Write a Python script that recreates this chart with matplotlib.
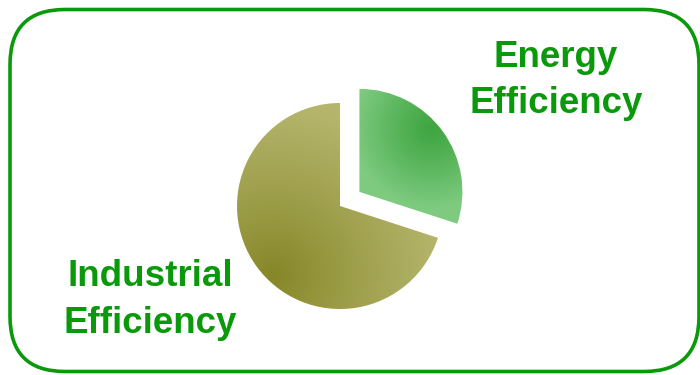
import numpy as np
import matplotlib.pyplot as plt
from matplotlib.colors import to_rgb
from matplotlib.patches import FancyBboxPatch

# data
labels = ['Energy\nEfficiency', 'Industrial\nEfficiency']
shares = [30, 70]
explode = [24, 0]

green = '#0a990a'

fig = plt.figure(figsize=(7, 3.75), dpi=100)
ax = fig.add_axes([0, 0, 1, 1])

# rounded frame
frame = FancyBboxPatch((10, 3.5), 689, 362, boxstyle='round,pad=0,rounding_size=55',
                       fc='none', ec=green, lw=2.6)
ax.add_patch(frame)

wedges, _ = ax.pie(shares, explode=explode, startangle=90, counterclock=False,
                   center=(340, 169), radius=103, frame=True,
                   wedgeprops=dict(lw=0))
ax.set_xlim(0, 700)
ax.set_ylim(0, 375)
ax.set_aspect('equal')
ax.axis('off')

# gradient fills
xx, yy = np.meshgrid(np.linspace(0, 700, 700), np.linspace(0, 375, 375))

def lerp(c1, c2, t):
    c1 = np.array(to_rgb(c1))
    c2 = np.array(to_rgb(c2))
    return c1 + (c2 - c1) * t[..., None]

# energy: dark spot near upper right edge
d = np.hypot(xx - 432, yy - (375 - 128))
t = np.clip(d / 80, 0, 1) ** 1.1
img_e = lerp('#3ea540', '#7ecb80', t)
# industrial: dark spot lower left
d = np.hypot(xx - 273, yy - (375 - 275))
t = np.clip(d / 165, 0, 1) ** 0.9
img_i = lerp('#858626', '#b4b46b', t)

for w, img in zip(wedges, [img_e, img_i]):
    w.set_facecolor('none')
    im = ax.imshow(img, extent=(0, 700, 0, 375), origin='lower', zorder=1)
    im.set_clip_path(w)

# labels, one line at a time (baselines)
label_pos = [(556, [375 - 67, 375 - 113]), (150, [375 - 286, 375 - 333])]
for lab, (x, ys) in zip(labels, label_pos):
    for line, y in zip(lab.split('\n'), ys):
        ax.text(x, y, line, ha='center', va='baseline', color=green,
                fontsize=26.5, fontweight='bold', family='Liberation Sans')

fig.savefig('out.png', dpi=100)
